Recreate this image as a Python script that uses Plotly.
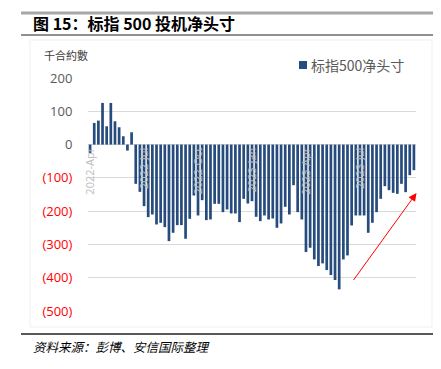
import pandas as pd
import plotly.graph_objects as go

# ---------------- data ----------------
week_dates = pd.date_range("2022-04-05", periods=79, freq="7D").strftime("%Y-%m-%d").tolist()
net_positions = [-25, 65, 72, 125, 55, 125, 70, 52, 25, -18, 37, -118, -142, -185, -218, -210,
                 -240, -235, -248, -290, -265, -242, -242, -283, -223, -153, -213, -167, -227,
                 -225, -178, -178, -203, -195, -207, -207, -233, -163, -177, -170, -217, -230,
                 -213, -225, -222, -250, -237, -187, -210, -122, -203, -225, -323, -310, -345,
                 -365, -357, -377, -392, -407, -435, -345, -333, -243, -213, -213, -213, -265,
                 -235, -203, -163, -125, -137, -145, -148, -118, -143, -92, -77]
x_tick_months = ["2022-04", "2022-07", "2022-10", "2023-01", "2023-04", "2023-07"]
x_tick_labels = ["2022-Apr", "2022-Jul", "2022-Oct", "2023-Jan", "2023-Apr", "2023-Jul"]
y_tick_vals = [200, 100, 0, -100, -200, -300, -400, -500]
y_tick_labels = ["200", "100", "0", "(100)", "(200)", "(300)", "(400)", "(500)"]
series_name = "标指500净头寸"
title_text = "图 15：标指 500 投机净头寸"
unit_text = "千合約數"
source_text = "资料来源：彭博、安信国际整理"

# ---------------- layout helpers (page pixel coordinates) ----------------
W, H = 441, 369          # browser window
OFF = 8                  # default body margin of the html page
L, R, T, B = 88, 416, 78, 311   # plot area on the page
BAR = "#264B7D"


def px(x):
    return (x - L) / (R - L)


def py(y):
    return (B - y) / (B - T)


x_tick_vals = [next(d for d in week_dates if d.startswith(m)) for m in x_tick_months]
y_tick_text = [
    t if v >= 0 else '<span style="color:#FF0000">%s</span>' % t
    for v, t in zip(y_tick_vals, y_tick_labels)
]

fig = go.Figure()
fig.add_trace(go.Bar(x=week_dates, y=net_positions, name=series_name,
                     marker=dict(color=BAR, line=dict(width=0)), showlegend=False))

fig.update_layout(
    width=W - OFF, height=H - OFF,
    margin=dict(l=L - OFF, r=W - R, t=T - OFF, b=H - B, autoexpand=False),
    paper_bgcolor="white", plot_bgcolor="white",
    bargap=0.35,
    font=dict(family="Open Sans, Noto Sans CJK SC", color="#595959"),
    xaxis=dict(type="category", anchor="free", position=500 / 700,
               range=[-0.5, len(week_dates) - 0.5],
               tickmode="array", tickvals=x_tick_vals, ticktext=x_tick_labels,
               tickangle=-90, tickfont=dict(size=11, color="#BDBDBD", family="Open Sans"),
               showgrid=False, showline=False, ticks="", zeroline=False),
    yaxis=dict(range=[-500, 200], tickmode="array", tickvals=y_tick_vals, ticktext=y_tick_text,
               tickfont=dict(size=13, color="#595959", family="Open Sans"),
               showgrid=True, gridcolor="#D9D9D9", gridwidth=1,
               zeroline=True, zerolinecolor="#D9D9D9", zerolinewidth=1,
               ticks="outside", ticklen=12, tickcolor="rgba(0,0,0,0)", showline=False),
)

shapes = [
    # top thick gray rule
    dict(type="line", xref="paper", yref="paper", x0=px(21), x1=px(441), y0=py(13), y1=py(13),
         line=dict(color="#A6A6A6", width=3)),
    # rule under title
    dict(type="line", xref="paper", yref="paper", x0=px(21), x1=px(441), y0=py(35), y1=py(35),
         line=dict(color="#222222", width=1.2)),
    # faint chart frame
    dict(type="rect", xref="paper", yref="paper", x0=px(30), x1=px(432), y0=py(40), y1=py(327),
         line=dict(color="#EFEFEF", width=1)),
    # bottom rule
    dict(type="line", xref="paper", yref="paper", x0=px(21), x1=px(441), y0=py(334), y1=py(334),
         line=dict(color="#222222", width=1.5)),
    # legend swatch
    dict(type="rect", xref="paper", yref="paper", x0=px(299), x1=px(307), y0=py(69), y1=py(61),
         line=dict(width=0), fillcolor=BAR),
]
fig.update_layout(shapes=shapes)

annotations = [
    dict(text="<b>%s</b>" % title_text, xref="paper", yref="paper", x=px(31), y=py(23),
         xanchor="left", yanchor="middle", showarrow=False,
         font=dict(size=16, color="#000000", family="Noto Sans CJK SC")),
    dict(text=unit_text, xref="paper", yref="paper", x=px(42), y=py(55),
         xanchor="left", yanchor="middle", showarrow=False,
         font=dict(size=11, color="#404040", family="Noto Sans CJK TC")),
    dict(text=series_name, xref="paper", yref="paper", x=px(309), y=py(65),
         xanchor="left", yanchor="middle", showarrow=False,
         font=dict(size=14, color="#595959", family="Noto Sans CJK SC")),
    dict(text="<i>%s</i>" % source_text, xref="paper", yref="paper", x=px(31), y=py(346),
         xanchor="left", yanchor="middle", showarrow=False,
         font=dict(size=12.5, color="#000000", family="Noto Sans CJK SC")),
    dict(text="", xref="paper", yref="paper", x=px(416.5), y=py(193),
         ax=352.5 - 416.5, ay=281.5 - 193, axref="pixel", ayref="pixel",
         showarrow=True, arrowhead=2, arrowsize=1.6, arrowwidth=1, arrowcolor="#FF0000"),
]
fig.update_layout(annotations=annotations)

fig.write_html("out.html")
